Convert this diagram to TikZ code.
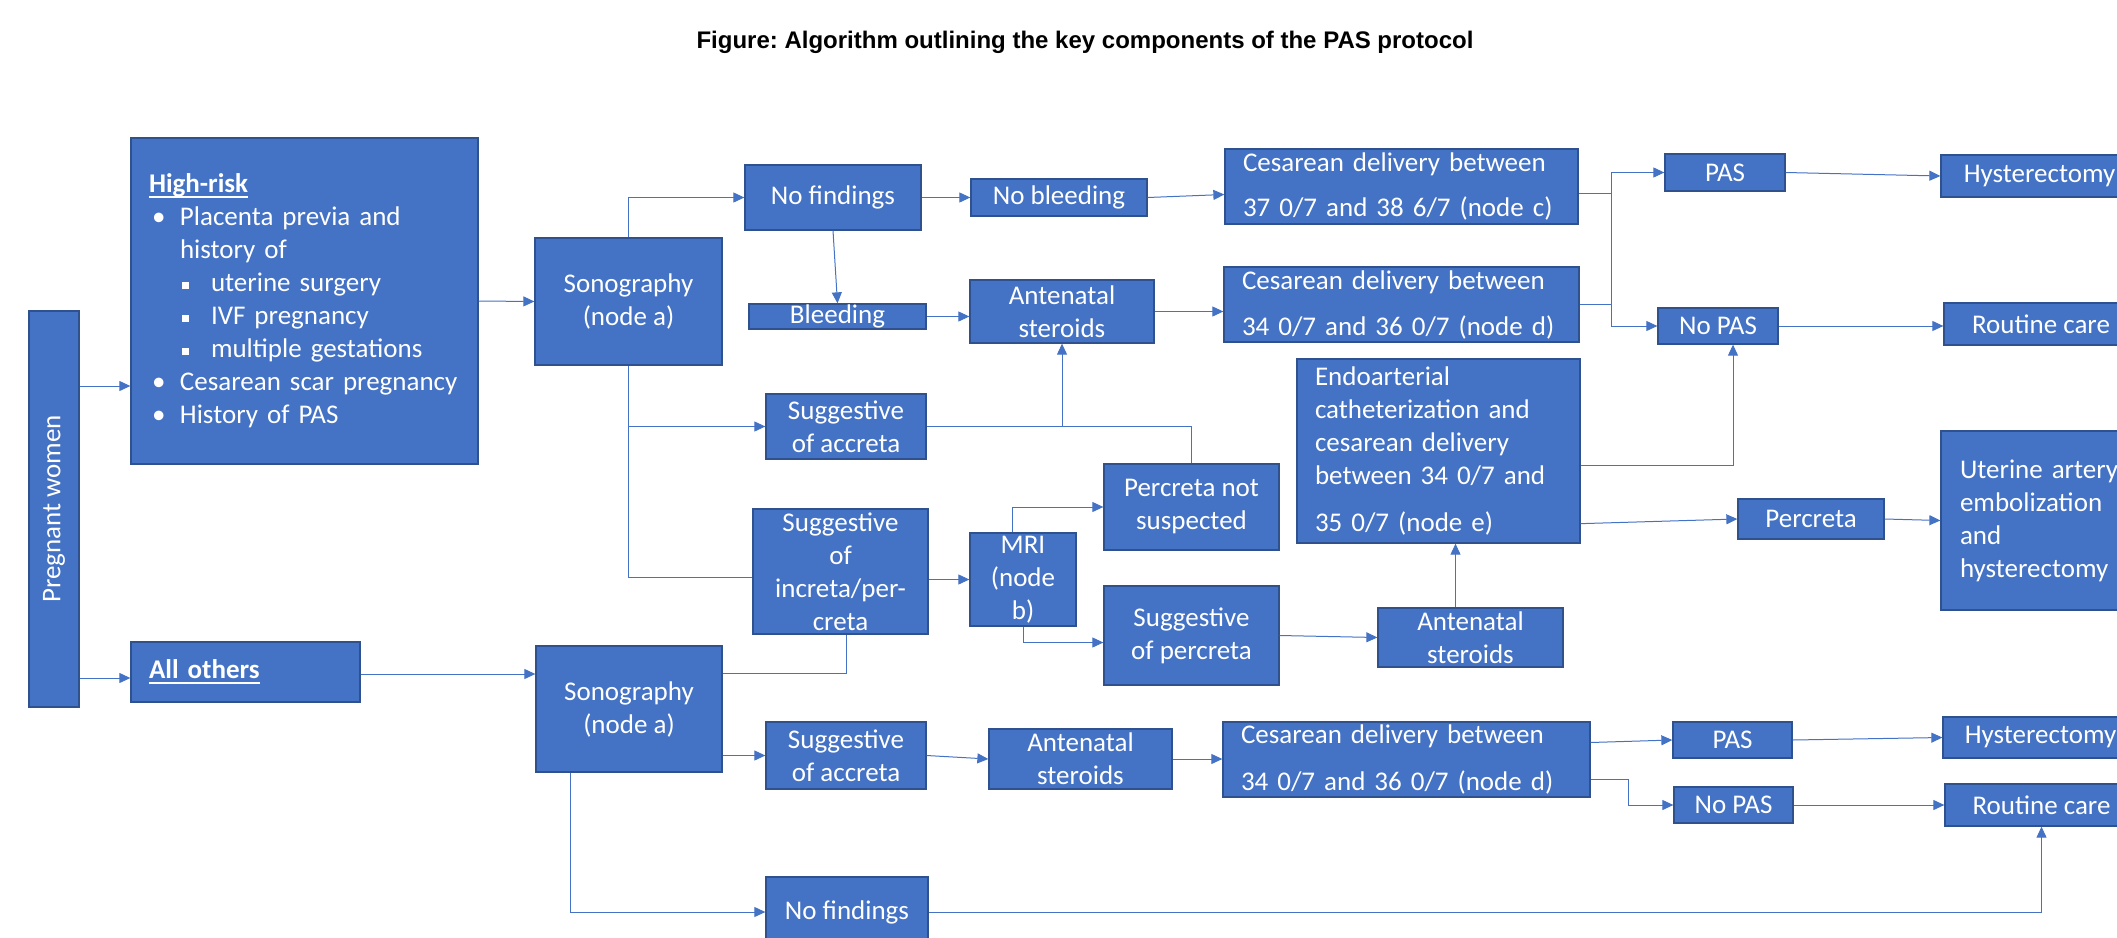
\documentclass[tikz,border=0pt]{standalone}
\usepackage{fontspec}
\setmainfont{Carlito}
\newfontfamily\titlefont{Liberation Sans}
\usepackage{graphicx}
\usepackage{tikz}
\usetikzlibrary{arrows.meta}
\frenchspacing
\definecolor{boxblue}{HTML}{4472C4}
\definecolor{boxedge}{HTML}{2F528F}
\definecolor{lineblue}{HTML}{4472C4}
\newcommand{\boxfont}{\fontsize{27}{33}\selectfont}
\newcommand{\bul}{\makebox[31pt][l]{\hspace{3pt}\textbullet}}
\newcommand{\sqb}{\makebox[31pt][l]{\hspace{2pt}\rule[3pt]{7pt}{7pt}}}
\newcommand{\ind}{\hspace*{31pt}}
\newcommand{\undl}[1]{\begingroup\setbox0\hbox{#1}\rlap{\rule[-5pt]{\wd0}{2pt}}\box0\endgroup}
\tikzset{
    block/.style = {draw=boxedge, fill=boxblue, rectangle, line width=1.3pt,
        text=white, inner sep=0pt, align=center, font=\boxfont},
    wh/.style 2 args = {minimum width=#1pt, minimum height=#2pt},
    arrow/.style = {draw=lineblue, line width=1pt, -{Triangle[length=11pt,width=10pt]}},
    link/.style = {draw=lineblue, line width=1pt}
}

\begin{document}
\begin{tikzpicture}[x=1pt, y=-1pt]
    \useasboundingbox (0,0) rectangle (2117,937);
    \clip (0,0) rectangle (2117,937);
    \node[font=\titlefont\bfseries\fontsize{24}{28}\selectfont] (title) at (1085,42) {Figure: Algorithm outlining the key components of the PAS protocol};
    \node[block, wh={50}{396}] (preg) at (54,509) {\rotatebox{90}{Pregnant women}};
    \node[block, wh={347}{326}, text width=311pt, align=left] (hirisk) at (304.5,301) {\undl{\textbf{High-risk}}\\
        \bul Placenta previa and\\
        \ind history of\\
        \ind\sqb uterine surgery\\
        \ind\sqb IVF pregnancy\\
        \ind\sqb multiple gestations\\
        \bul Cesarean scar pregnancy\\
        \bul History of PAS};
    \node[block, wh={229}{60}, text width=193pt, align=left] (others) at (245.5,672) {\undl{\textbf{All others}}};
    \node[block, wh={187}{127}] (sonoA) at (628.5,301.5) {Sonography\\(node a)};
    \node[block, wh={176}{65}] (nofindA) at (833,197.5) {No findings};
    \node[block, wh={177}{25}] (bleed) at (837.5,316.5) {Bleeding};
    \node[block, wh={160}{65}] (accA) at (846,426.5) {Suggestive\\of accreta};
    \node[block, wh={175}{125}] (incr) at (840.5,571.5) {Suggestive\\of\\increta/per-\\creta};
    \node[block, wh={176}{37}] (nobleed) at (1059,197.5) {No bleeding};
    \node[block, wh={184}{63}] (steroA) at (1062,311.5) {Antenatal\\steroids};
    \node[block, wh={106}{93}] (mri) at (1023,579.5) {MRI\\(node\\b)};
    \node[block, wh={175}{86}] (notperc) at (1191.5,507) {Percreta not\\suspected};
    \node[block, wh={175}{99}] (percsug) at (1191.5,635.5) {Suggestive\\of percreta};
    \node[block, wh={353}{75}, text width=317pt, align=left] (cesC) at (1401.5,186.5) {Cesarean delivery between\\[12pt]37 0/7 and 38 6/7 (node c)};
    \node[block, wh={355}{75}, text width=319pt, align=left] (cesD) at (1401.5,304.5) {Cesarean delivery between\\[13pt]34 0/7 and 36 0/7 (node d)};
    \node[block, wh={283}{184}, text width=247pt, align=left] (endo) at (1438.5,451) {Endoarterial\\catheterization and\\cesarean delivery\\between 34 0/7 and\\[14pt]35 0/7 (node e)};
    \node[block, wh={185}{59}] (steroB) at (1470.5,637.5) {Antenatal\\steroids};
    \node[block, wh={120}{37}] (pasA) at (1725,172.5) {PAS};
    \node[block, wh={120}{36}] (nopasA) at (1718,326) {No PAS};
    \node[block, wh={146}{40}] (perc) at (1811,519) {Percreta};
    \node[block, wh={197}{42}] (hystA) at (2039.5,176) {Hysterectomy};
    \node[block, wh={194}{42}] (careA) at (2041,324) {Routine care};
    \node[block, wh={239}{179}, text width=201pt, align=left] (uae) at (2060.5,520.5) {Uterine artery\\embolization\\and\\hysterectomy};
    \node[block, wh={186}{126}] (sonoB) at (629,709) {Sonography\\(node a)};
    \node[block, wh={160}{67}] (accB) at (846,755.5) {Suggestive\\of accreta};
    \node[block, wh={183}{60}] (steroC) at (1080.5,759) {Antenatal\\steroids};
    \node[block, wh={367}{75}, text width=331pt, align=left] (cesD2) at (1406.5,759.5) {Cesarean delivery between\\[14pt]34 0/7 and 36 0/7 (node d)};
    \node[block, wh={119}{36}] (pasB) at (1732.5,740) {PAS};
    \node[block, wh={119}{36}] (nopasB) at (1733.5,805) {No PAS};
    \node[block, wh={195}{41}] (hystB) at (2040.5,737.5) {Hysterectomy};
    \node[block, wh={193}{42}] (careB) at (2041.5,805) {Routine care};
    \node[block, wh={162}{70}] (nofindB) at (847,912) {No findings};
    \draw[arrow] (preg.east |- 0,386) -- (hirisk.west |- 0,386);
    \draw[arrow] (preg.east |- 0,678) -- (others.west |- 0,678);
    \draw[arrow] (hirisk.east) -- (sonoA.west);
    \draw[arrow] (others.east |- 0,674) -- (sonoB.west |- 0,674);
    \draw[arrow] (sonoA.north) |- (nofindA.west);
    \draw[arrow] (sonoA.south) |- (accA.west);
    \draw[link] (sonoA.south) |- ([yshift=-6pt]incr.west);
    \draw[arrow] (nofindA.east) -- (nobleed.west);
    \draw[arrow] (nofindA.south) -- (bleed.north);
    \draw[arrow] (nobleed.east) -- ([yshift=-8pt]cesC.west);
    \draw[arrow] (bleed.east) -- (bleed.east -| steroA.west);
    \draw[arrow] (steroA.east) -- (steroA.east -| cesD.west);
    \coordinate (jc) at (1611,193);
    \draw[link] ([yshift=-6.5pt]cesC.east) -- (jc);
    \draw[link] (cesD.east) -- (cesD.east -| jc);
    \draw[arrow] (jc) |- (pasA.west);
    \draw[arrow] (jc) |- (nopasA.west);
    \draw[arrow] (pasA.east) -- (hystA.west);
    \draw[arrow] (nopasA.east) -- (nopasA.east -| careA.west);
    \draw[link] (accA.east) -| (notperc.north);
    \draw[arrow] (accA.east -| steroA.south) -- (steroA.south);
    \draw[arrow] (mri.west -| incr.east) -- (mri.west);
    \draw[arrow] ([xshift=-11pt]mri.north) |- (notperc.west);
    \draw[arrow] (mri.south) |- ([yshift=-7pt]percsug.west);
    \draw[arrow] (percsug.east) -- (steroB.west);
    \draw[arrow] ([xshift=-15pt]steroB.north) -- ([xshift=-15pt]steroB.north |- endo.south);
    \draw[arrow] ([yshift=-14pt]endo.east) -| ([xshift=15pt]nopasA.south);
    \draw[arrow] ([yshift=20pt]endo.south east) -- (perc.west);
    \draw[arrow] (perc.east) -- (uae.west);
    \draw[link] ([yshift=-28pt]sonoB.north east) -| ([xshift=6pt]incr.south);
    \draw[arrow] (sonoB.east |- accB.west) -- (accB.west);
    \draw[arrow] (accB.east) -- (steroC.west);
    \draw[arrow] (steroC.east) -- (steroC.east -| cesD2.west);
    \draw[arrow] ([yshift=17pt]cesD2.east) -- (pasB.west);
    \draw[arrow] ([yshift=-20pt]cesD2.east) -- ++(38,0) |- (nopasB.west);
    \draw[arrow] (pasB.east) -- (hystB.west);
    \draw[arrow] (nopasB.east) -- (careB.west);
    \draw[arrow] ([xshift=-59pt]sonoB.south) |- (nofindB.west);
    \draw[arrow] (nofindB.east) -| (careB.south);
\end{tikzpicture}
\end{document}
